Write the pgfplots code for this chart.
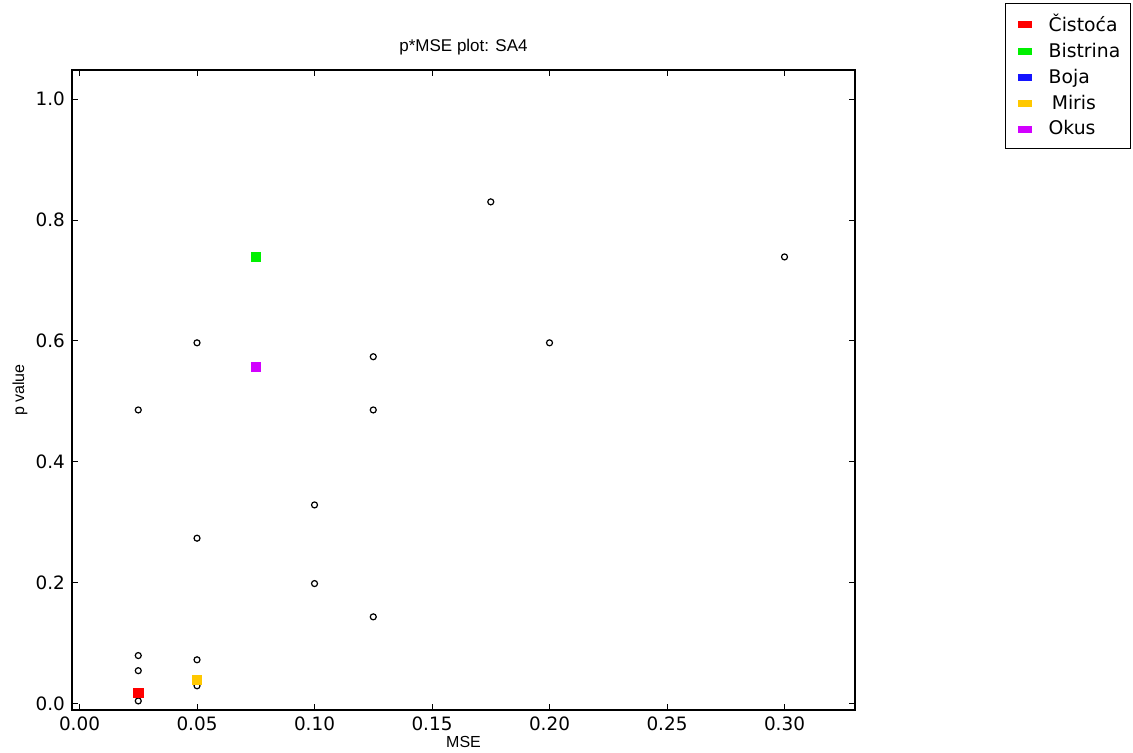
\documentclass[border=0pt]{standalone}
\usepackage{pgfplots}
\pgfplotsset{compat=1.18}
\usepackage{fontspec}
\setmainfont{DejaVu Sans}
\newfontfamily\helv{Liberation Sans}
\definecolor{cRed}{RGB}{255,0,0}
\definecolor{cGreen}{RGB}{0,240,0}
\definecolor{cBlue}{RGB}{20,20,255}
\definecolor{cYellow}{RGB}{255,200,0}
\definecolor{cMag}{RGB}{210,0,255}
\begin{document}
\begin{tikzpicture}
\useasboundingbox (-36pt,-21.5pt) rectangle (530.5pt,355pt);
\begin{axis}[
  at={(0,0)}, anchor=south west,
  scale only axis, width=391.5pt, height=320pt,
  xmin=-0.0032, xmax=0.33, ymin=-0.01, ymax=1.048,
  axis line style={line width=0.9pt},
  tick align=inside, major tick length=3pt, tick style={black, line width=0.5pt},
  xtick={0,0.05,0.1,0.15,0.2,0.25,0.3},
  ytick={0,0.2,0.4,0.6,0.8,1.0},
  xticklabel style={/pgf/number format/.cd, fixed, fixed zerofill, precision=2, assume math mode=true},
  yticklabel style={/pgf/number format/.cd, fixed, fixed zerofill, precision=1, assume math mode=true},
  tick label style={font=\fontsize{9.2}{10}\selectfont},
  scaled ticks=false,
  xlabel={\helv\fontsize{8}{9}\selectfont MSE},
  ylabel={\helv\fontsize{8}{9}\selectfont p value},
  xlabel style={at={(axis description cs:0.5,-0.05)}, anchor=center},
  ylabel style={at={(axis description cs:-0.0664,0.5)}, anchor=center},
  title={\helv\fontsize{8.5}{10}\selectfont p*MSE plot: SA4},
  title style={at={(axis description cs:0.5,1.039)}, anchor=center, yshift=-7pt},
  clip=false,
  legend style={at={(1.1916,1.1047)}, anchor=north west, draw=black, line width=0.6pt,
    font=\fontsize{9.4}{10}\selectfont, inner xsep=3pt, inner ysep=3.2pt,
    row sep=0.3pt, legend cell align=left},
  legend image code/.code={\path[draw=none, fill=none] (0pt,0pt) -- (16.5pt,0pt); \fill[#1, draw=none] (3pt,-1.75pt) rectangle (10pt,1.75pt);},
]
\addplot[only marks, mark=*, mark size=1.5pt, mark options={draw=black, fill=white, line width=0.6pt}, forget plot] coordinates {
(0.025,0.005) (0.025,0.055) (0.025,0.080) (0.025,0.486)
(0.05,0.597) (0.05,0.274) (0.05,0.073) (0.05,0.030)
(0.1,0.329) (0.1,0.199) (0.125,0.574) (0.125,0.486) (0.125,0.144)
(0.175,0.830) (0.2,0.597) (0.3,0.739)
};
\addplot[only marks, mark=square*, mark size=2.4pt, mark options={draw=cRed, fill=cRed}, fill=cRed] coordinates {(0.025,0.018)};
\addlegendentry{Čistoća}
\addplot[only marks, mark=square*, mark size=2.4pt, mark options={draw=cGreen, fill=cGreen}, fill=cGreen] coordinates {(0.075,0.739)};
\addlegendentry{Bistrina}
\addlegendimage{fill=cBlue}
\addlegendentry{Boja}
\addplot[only marks, mark=square*, mark size=2.4pt, mark options={draw=cYellow, fill=cYellow}, fill=cYellow] coordinates {(0.05,0.040)};
\addlegendentry{\,Miris}
\addplot[only marks, mark=square*, mark size=2.4pt, mark options={draw=cMag, fill=cMag}, fill=cMag] coordinates {(0.075,0.557)};
\addlegendentry{Okus}
\end{axis}
\end{tikzpicture}
\end{document}
